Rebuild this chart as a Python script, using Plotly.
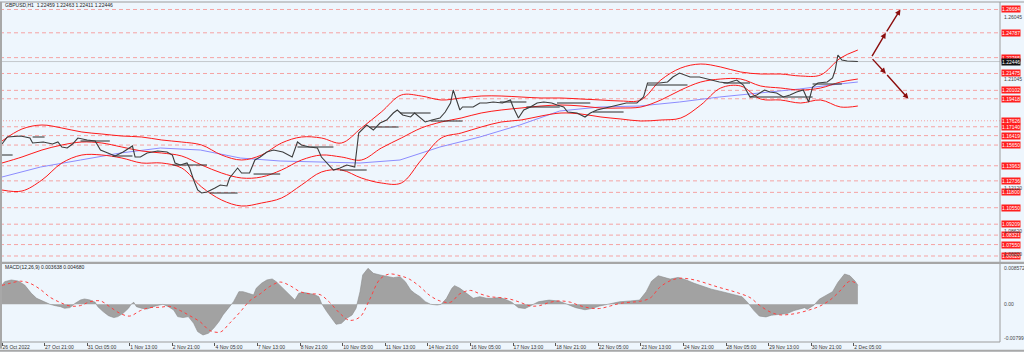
import plotly.graph_objects as go

# ---------------- data ----------------
# time axis: bar index (H1 bars), tick labels every 32 bars
tick_bars = [0, 32, 64, 96, 128, 160, 192, 224, 256, 288, 320, 352, 384, 416, 448, 480, 512, 544, 576, 608, 640]
tick_text = ["26 Oct 2022", "27 Oct 21:00", "31 Oct 05:00", "1 Nov 13:00", "2 Nov 21:00", "4 Nov 05:00",
             "7 Nov 13:00", "8 Nov 21:00", "10 Nov 05:00", "11 Nov 13:00", "14 Nov 21:00", "16 Nov 05:00",
             "17 Nov 13:00", "18 Nov 21:00", "22 Nov 05:00", "23 Nov 13:00", "24 Nov 21:00", "28 Nov 05:00",
             "29 Nov 13:00", "30 Nov 21:00", "2 Dec 05:00"]

# GBPUSD H1 close path (sampled)
price_bar = [0, 4, 14, 21, 23, 31, 38, 42, 45, 49, 53, 57, 64, 70, 74, 79, 85, 91, 98, 100,
             104, 109, 117, 124, 128, 130, 134, 139, 141, 144, 147, 150, 154, 160, 164, 169, 171, 174, 177, 180,
             186, 190, 194, 199, 204, 211, 218, 222, 225, 231, 237, 240, 244, 249, 254, 259, 265, 268, 274, 279,
             284, 289, 294, 297, 301, 307, 310, 314, 318, 323, 329, 333, 337, 339, 342, 344, 346, 354, 359, 364,
             369, 376, 382, 384, 388, 392, 397, 402, 407, 413, 417, 422, 425, 432, 438, 442, 447, 454, 462, 469,
             477, 482, 485, 489, 494, 500, 504, 509, 517, 524, 532, 539, 545, 552, 557, 562, 567, 573, 577, 582,
             587, 592, 597, 602, 606, 609, 613, 620, 624, 626, 628, 631, 635, 639, 643]
price_val = [1.15736, 1.16305, 1.16387, 1.16224, 1.15817, 1.15898, 1.15736, 1.15898, 1.15491, 1.15410,
             1.15736, 1.16224, 1.16061, 1.15980, 1.15247, 1.15003, 1.14759, 1.15084, 1.15573, 1.14677,
             1.14677, 1.15003, 1.15166, 1.15084, 1.14840, 1.14189, 1.14026, 1.14189, 1.13782, 1.12805,
             1.11991, 1.11747, 1.11829, 1.12154, 1.12398, 1.12317, 1.12968, 1.13375, 1.13782, 1.13375,
             1.13375, 1.14433, 1.14677, 1.15084, 1.15247, 1.15084, 1.14677, 1.15898, 1.15654, 1.15491,
             1.15410, 1.14677, 1.14189, 1.13619, 1.13782, 1.14026, 1.13863, 1.16631, 1.17282, 1.16875,
             1.17445, 1.17689, 1.18259, 1.18503, 1.18096, 1.17933, 1.18259, 1.17852, 1.17526, 1.17689,
             1.17852, 1.18340, 1.19073, 1.20131, 1.19073, 1.18503, 1.18747, 1.18747, 1.19073, 1.19073,
             1.19154, 1.19073, 1.19317, 1.18747, 1.17852, 1.18503, 1.18747, 1.19073, 1.19154, 1.19073,
             1.18910, 1.18747, 1.18340, 1.18259, 1.17933, 1.18259, 1.18503, 1.18666, 1.18910, 1.19073,
             1.19073, 1.19561, 1.20701, 1.20701, 1.20701, 1.20782, 1.21189, 1.21515, 1.21189, 1.21189,
             1.20945, 1.20782, 1.20701, 1.20945, 1.20538, 1.19561, 1.19724, 1.20131, 1.19968, 1.19887,
             1.19561, 1.19724, 1.19968, 1.20131, 1.19154, 1.20375, 1.20701, 1.20782, 1.21108, 1.21759,
             1.22980, 1.22573, 1.22492, 1.22492, 1.22446]

# Bollinger bands (sampled)
band_bar = [0, 15, 30, 45, 60, 75, 90, 105, 120, 135, 150, 165, 180, 195, 210, 225, 240, 255, 270, 285, 300, 315,
            330, 345, 360, 375, 390, 405, 420, 435, 450, 465, 480, 495, 510, 525, 540, 555, 570, 585, 600, 615, 630, 643]
bb_upper = [1.15980, 1.16956, 1.17282, 1.17038, 1.16712, 1.16549, 1.16387, 1.16305, 1.16061, 1.15898,
            1.15654, 1.14840, 1.14433, 1.14840, 1.15817, 1.16305, 1.16224, 1.15817, 1.17038, 1.18340,
            1.19724, 1.19643, 1.19317, 1.19480, 1.19643, 1.19643, 1.19561, 1.19480, 1.19480, 1.19398,
            1.19317, 1.19236, 1.19317, 1.20945, 1.21922, 1.22247, 1.22003, 1.21596, 1.21433, 1.21433,
            1.21271, 1.21352, 1.22736, 1.23387]
bb_middle = [1.14189, 1.14677, 1.15247, 1.15654, 1.15898, 1.15817, 1.15491, 1.15166, 1.15003, 1.14759,
             1.14026, 1.13375, 1.12968, 1.13049, 1.13619, 1.14433, 1.14840, 1.14677, 1.14433, 1.15410,
             1.16224, 1.17038, 1.17526, 1.17852, 1.18259, 1.18503, 1.18666, 1.18829, 1.18910, 1.18829,
             1.18666, 1.18666, 1.18747, 1.19317, 1.20131, 1.20782, 1.21026, 1.21026, 1.20457, 1.20294,
             1.20131, 1.20294, 1.20782, 1.21026]
bb_lower = [1.11991, 1.11910, 1.12805, 1.14189, 1.14840, 1.14840, 1.14596, 1.14189, 1.14189, 1.13782,
            1.12235, 1.11177, 1.10689, 1.10933, 1.11340, 1.12398, 1.13456, 1.13619, 1.12968, 1.12561,
            1.12561, 1.14433, 1.16224, 1.16631, 1.17119, 1.17526, 1.17689, 1.18015, 1.18259, 1.18177,
            1.17933, 1.17771, 1.17608, 1.17689, 1.17852, 1.18910, 1.20294, 1.20457, 1.19398, 1.19317,
            1.19073, 1.19317, 1.18747, 1.18829]

# slow moving average (blue)
ma_bar = [0, 29, 59, 89, 119, 149, 179, 209, 239, 269, 299, 329, 359, 389, 419, 449, 479, 509, 539, 569, 599, 629, 643]
ma_val = [1.13049, 1.13863, 1.14433, 1.15003, 1.15410, 1.15247, 1.14596, 1.14352, 1.14270, 1.14189, 1.14433,
          1.15491, 1.16305, 1.17282, 1.18422, 1.18747, 1.18829, 1.19154, 1.19561, 1.19887, 1.20212, 1.20619, 1.20782]

# short black horizontal segments
seg_start = [0, 23, 59, 83, 128, 156, 189, 222, 254, 276, 299, 322, 374, 394, 417, 444, 485, 542, 562, 609]
seg_end = [8, 32, 81, 98, 154, 177, 209, 249, 274, 298, 322, 346, 394, 419, 442, 467, 515, 562, 609, 631]
seg_price = [1.14840, 1.16305, 1.15980, 1.14759, 1.14026, 1.11747, 1.13293, 1.15491, 1.13619, 1.17119,
             1.18259, 1.17608, 1.19154, 1.18747, 1.19073, 1.18340, 1.20538, 1.20701, 1.19561, 1.20619]

# horizontal level lines with red price tags
levels = [1.26684, 1.24787, 1.22765, 1.21475, 1.20102, 1.19418, 1.17626, 1.17140, 1.16419, 1.15650,
          1.13963, 1.12736, 1.11800, 1.10550, 1.09209, 1.08321, 1.07550, 1.06620]
level_dash = ["dash"] * 6 + ["dot"] + ["dash"] * 11
axis_ticks = [1.26045, 1.21045, 1.12120, 1.08620, 1.06820]
last_price = 1.22446

# projection arrows (bar, price)
arrow_up_bar = [653, 664, 675]
arrow_up_price = [1.22765, 1.24787, 1.26684]
arrow_dn_bar = [653, 664, 681]
arrow_dn_price = [1.22765, 1.21475, 1.19418]

# MACD histogram and signal
hist_bar = [0, 2, 7, 12, 17, 22, 26, 31, 36, 40, 44, 47, 51, 55, 59, 62, 66, 70, 72, 76,
            80, 84, 87, 91, 95, 97, 99, 101, 105, 109, 112, 116, 121, 125, 129, 132, 136, 140, 144, 147,
            151, 155, 159, 163, 166, 170, 174, 178, 181, 185, 189, 191, 195, 199, 203, 206, 210, 214, 218, 220,
            223, 226, 230, 234, 238, 240, 244, 248, 251, 255, 259, 263, 266, 269, 271, 275, 279, 284, 289, 294,
            299, 303, 307, 310, 314, 318, 322, 327, 330, 334, 338, 340, 344, 349, 354, 359, 364, 369, 374,
            378, 383, 388, 393, 398, 403, 411, 418, 424, 431, 438, 443, 449, 457, 464, 472, 479, 484, 488, 493,
            497, 502, 508, 514, 520, 526, 533, 541, 548, 556, 560, 565, 569, 574, 578, 584, 590, 595, 603, 605,
            610, 614, 619, 624, 628, 633, 637, 641, 643]
hist_val = [0.00460, 0.00539, 0.00579, 0.00555, 0.00460, 0.00262, 0.00143, 0.00063, 0.0, -0.00032,
            -0.00056, -0.00095, -0.00079, 0.00024, 0.00103, 0.00127, 0.00103, 0.00048, -0.00056, -0.00174,
            -0.00270, -0.00317, -0.00293, -0.00214, -0.00095, 0.0, 0.00048, -0.00056, -0.00095, -0.00111,
            -0.00079, -0.00032, 0.0, -0.00056, -0.00135, -0.00293, -0.00317, -0.00293, -0.00452, -0.00650,
            -0.00730, -0.00690, -0.00571, -0.00412, -0.00254, -0.00095, 0.00063, 0.00301, 0.00301, 0.00262,
            0.00222, 0.00381, 0.00500, 0.00579, 0.00603, 0.00539, 0.00420, 0.00301, 0.00182, 0.00103,
            0.00262, 0.00285, 0.00262, 0.00238, 0.00182, 0.00024, -0.00174, -0.00333, -0.00476, -0.00452,
            -0.00333, -0.00254, -0.00095, 0.00301, 0.00698, 0.00856, 0.00737, 0.00698, 0.00658, 0.00634,
            0.00658, 0.00539, 0.00341, 0.00262, 0.00182, 0.00063, 0.0, -0.00016, 0.0, 0.00143,
            0.00381, 0.00444, 0.00381, 0.00262, 0.00143, 0.00182, 0.00143, 0.00143, 0.00159,
            0.0012, 0.0005, -0.0008, -0.0010, -0.0002, 0.0006, 0.0010, 0.0008, 0.0001, -0.0008,
            -0.0013, -0.0010, -0.0004, 0.0002, 0.0006, 0.0008, 0.0010, 0.0030, 0.0055, 0.0068,
            0.0065, 0.0060, 0.0064, 0.0058, 0.0050, 0.0043, 0.0036, 0.0030, 0.0025, 0.0018,
            0.0005, -0.0015, -0.0028, -0.0030, -0.0026, -0.0024, -0.0022, -0.0015, -0.0008, -0.0012,
            -0.0002, 0.0012, 0.0022, 0.0030, 0.0052, 0.0072, 0.0068, 0.0055, 0.0045]
sig_bar = [0, 6, 14, 21, 29, 36, 44, 51, 59, 66, 74, 81, 89, 96, 104, 111, 119, 126, 134, 141,
           149, 156, 164, 171, 179, 186, 194, 201, 209, 216, 224, 231, 239, 246, 254, 261, 269, 276, 284, 291,
           299, 306, 314, 321, 329, 337, 344, 352, 359, 367, 374, 382, 389, 397, 404, 412, 419, 427, 434, 442,
           449, 457, 464, 472, 479, 487, 494, 502, 509, 517, 524, 532, 539, 547, 554, 562, 569, 577, 584, 592,
           599, 607, 614, 622, 629, 637, 643]
sig_val = [0.0045, 0.0050, 0.0055, 0.0050, 0.0035, 0.0017, 0.0004, -0.0004, -0.0003, 0.0006,
           0.0008, -0.0006, -0.0022, -0.0028, -0.0015, -0.0008, -0.0007, -0.0005, -0.0015, -0.0027,
           -0.0042, -0.0062, -0.0066, -0.0045, -0.0018, 0.0008, 0.0025, 0.0042, 0.0053, 0.0045,
           0.0030, 0.0025, 0.0023, 0.0005, -0.0022, -0.0038, -0.0030, 0.0010, 0.0060, 0.0072,
           0.0068, 0.0060, 0.0042, 0.0022, 0.0008, 0.0005, 0.0025, 0.0033, 0.0025, 0.0018,
           0.0016, 0.0012, 0.0005, -0.0004, -0.0003, 0.0005, 0.0008, 0.0005, -0.0003, -0.0009,
           -0.0010, -0.0004, 0.0002, 0.0005, 0.0007, 0.0015, 0.0040, 0.0056, 0.0062, 0.0060,
           0.0055, 0.0047, 0.0040, 0.0033, 0.0026, 0.0016, -0.0002, -0.0018, -0.0025, -0.0024,
           -0.0020, -0.0013, -0.0005, 0.0010, 0.0030, 0.0055, 0.0047]
macd_ticks = [0.008572, 0.0, -0.00799]
macd_tick_text = ["0.008572", "0.00", "-0.00799"]

header_text = "GBPUSD,H1  1.22459 1.22463 1.22411 1.22446"
macd_text = "MACD(12,26,9) 0.003638 0.004680"

# ---------------- figure ----------------
FONT = "Liberation Sans"
BG = "#eef6fd"
fig = go.Figure()

fig.add_trace(go.Scatter(x=ma_bar, y=ma_val, mode="lines", line=dict(color="#8c8cff", width=1),
                         xaxis="x", yaxis="y", hoverinfo="skip"))
for band in (bb_upper, bb_middle, bb_lower):
    fig.add_trace(go.Scatter(x=band_bar, y=band, mode="lines", line=dict(color="#ff1a1a", width=1),
                             line_shape="spline", xaxis="x", yaxis="y", hoverinfo="skip"))

sx, sy = [], []
for a, b, p in zip(seg_start, seg_end, seg_price):
    sx += [a, b, None]
    sy += [p, p, None]
fig.add_trace(go.Scatter(x=sx, y=sy, mode="lines", line=dict(color="#2a2a2a", width=1),
                         xaxis="x", yaxis="y", hoverinfo="skip"))

fig.add_trace(go.Scatter(x=price_bar, y=price_val, mode="lines", line=dict(color="#3c3c3c", width=1.1),
                         xaxis="x", yaxis="y", hoverinfo="skip"))

fig.add_trace(go.Scatter(x=hist_bar, y=hist_val, mode="lines", fill="tozeroy", fillcolor="#a2a2a2",
                         line=dict(color="#8a8a8a", width=0.6), xaxis="x2", yaxis="y2", hoverinfo="skip"))
fig.add_trace(go.Scatter(x=sig_bar, y=sig_val, mode="lines", line=dict(color="#ff4040", width=1, dash="dot"),
                         line_shape="spline", xaxis="x2", yaxis="y2", hoverinfo="skip"))

shapes = []
for lv, ds in zip(levels, level_dash):
    shapes.append(dict(type="line", xref="paper", x0=0, x1=1, yref="y", y0=lv, y1=lv, layer="below",
                       line=dict(color="#f5a3a3", width=1, dash="4px,3px" if ds == "dash" else "1px,2px")))
shapes.append(dict(type="line", xref="paper", x0=0, x1=1, yref="y", y0=last_price, y1=last_price,
                   layer="below", line=dict(color="#c4c8cc", width=1)))
# frame
frame = "#9c9c9c"
shapes += [
    dict(type="line", xref="paper", yref="paper", x0=1, x1=1, y0=0, y1=1, line=dict(color=frame, width=1)),
    dict(type="line", xref="paper", yref="paper", x0=0, x1=1.03, y0=1, y1=1, line=dict(color=frame, width=1)),
    dict(type="rect", xref="paper", yref="paper", x0=0, x1=1.03, y0=0.2294, y1=0.2362,
         fillcolor="#a6a6a6", line=dict(width=0)),
    dict(type="line", xref="paper", yref="paper", x0=0, x1=1, y0=0, y1=0, line=dict(color=frame, width=1)),
    dict(type="line", xref="paper", yref="paper", x0=0.001, x1=0.001, y0=-0.02, y1=1,
         line=dict(color="#a8a8a8", width=2)),
    dict(type="line", xref="paper", yref="paper", x0=0, x1=1.03, y0=-0.026, y1=-0.026,
         line=dict(color="#a8a8a8", width=2)),
]

ann = []
ann.append(dict(text=header_text, xref="paper", yref="paper", x=0.003, y=0.9905, xanchor="left",
                yanchor="middle", showarrow=False, font=dict(family=FONT, size=5, color="#222")))
ann.append(dict(text=macd_text, xref="paper", yref="paper", x=0.003, y=0.222, xanchor="left",
                yanchor="middle", showarrow=False, font=dict(family=FONT, size=5, color="#222")))
for lv in levels:
    ann.append(dict(text=f"{lv:.5f}", xref="paper", x=1, xanchor="left", xshift=1, yref="y", y=lv,
                    yanchor="middle", showarrow=False, bgcolor="#ff1f1f", borderpad=0,
                    font=dict(family=FONT, size=5, color="white")))
for lv in axis_ticks:
    ann.append(dict(text=f"{lv:.5f}", xref="paper", x=1, xanchor="left", xshift=2, yref="y", y=lv,
                    yanchor="middle", showarrow=False, font=dict(family=FONT, size=5, color="#444")))
ann.append(dict(text=f"{last_price:.5f}", xref="paper", x=1, xanchor="left", xshift=1, yref="y", y=last_price,
                yanchor="middle", showarrow=False, bgcolor="#111", borderpad=0,
                font=dict(family=FONT, size=5, color="white")))
for v, t in zip(macd_ticks, macd_tick_text):
    ann.append(dict(text=t, xref="paper", x=1, xanchor="left", xshift=2, yref="y2", y=v, yanchor="middle",
                    showarrow=False, font=dict(family=FONT, size=5, color="#444")))
for bars, prices in ((arrow_up_bar, arrow_up_price), (arrow_dn_bar, arrow_dn_price)):
    for i in range(len(bars) - 1):
        ann.append(dict(x=bars[i + 1], y=prices[i + 1], ax=bars[i], ay=prices[i], xref="x", yref="y",
                        axref="x", ayref="y", text="", showarrow=True, arrowhead=2, arrowsize=0.8,
                        arrowwidth=1.4, arrowcolor="#8b0d0d"))

x_range = [-1.5, 749.8]
fig.update_layout(
    width=1024, height=352,
    margin=dict(l=0, r=24, t=2, b=10),
    paper_bgcolor=BG, plot_bgcolor=BG,
    showlegend=False,
    shapes=shapes, annotations=ann,
    xaxis=dict(domain=[0, 1], range=x_range, anchor="y", showticklabels=False, showgrid=False,
               zeroline=False, showline=False),
    yaxis=dict(domain=[0.2382, 1], range=[1.06212, 1.27294], showticklabels=False, showgrid=False,
               zeroline=False, showline=False),
    xaxis2=dict(domain=[0, 1], range=x_range, anchor="y2", tickmode="array", tickvals=tick_bars,
                ticktext=tick_text, ticks="outside", ticklen=3, tickcolor="#555", tickwidth=1,
                ticklabelposition="outside right", tickfont=dict(family=FONT, size=5, color="#333"),
                showgrid=False, zeroline=False, showline=False),
    yaxis2=dict(domain=[0, 0.2294], range=[-0.00897, 0.00959], showticklabels=False, showgrid=False,
                zeroline=False, showline=False),
)

fig.write_html("out.html")
